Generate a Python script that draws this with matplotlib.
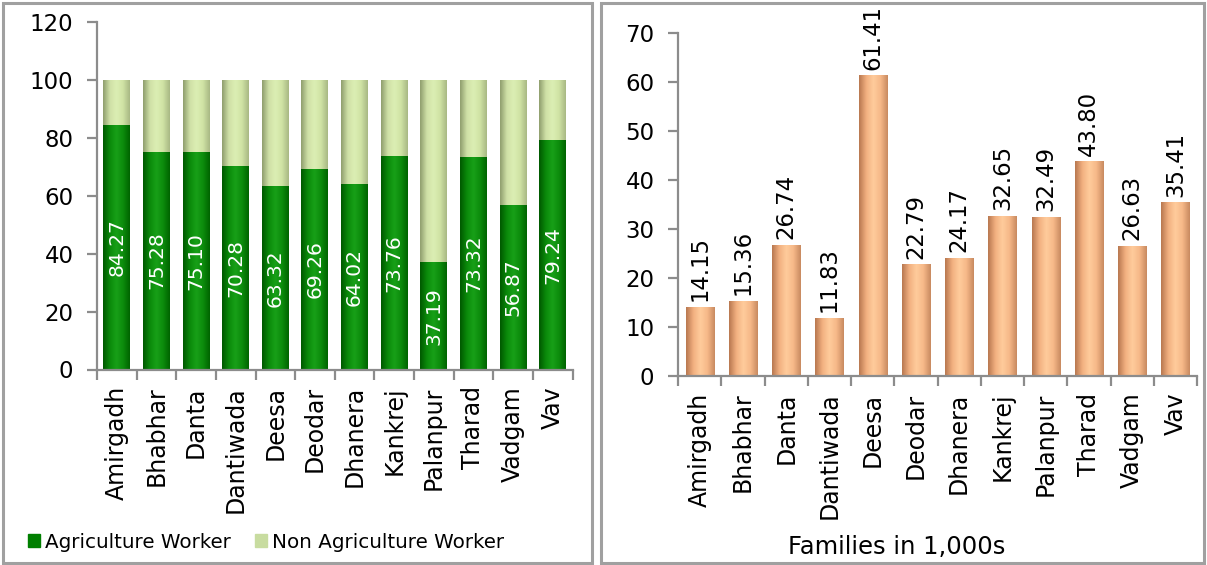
import numpy as np
import matplotlib
matplotlib.use('Agg')
import matplotlib.pyplot as plt
from matplotlib.colors import LinearSegmentedColormap
from matplotlib.patches import Rectangle, Patch

blocks = ['Amirgadh', 'Bhabhar', 'Danta', 'Dantiwada', 'Deesa', 'Deodar',
          'Dhanera', 'Kankrej', 'Palanpur', 'Tharad', 'Vadgam', 'Vav']
agri_pct = [84.27, 75.28, 75.10, 70.28, 63.32, 69.26,
            64.02, 73.76, 37.19, 73.32, 56.87, 79.24]
non_agri_pct = [100 - v for v in agri_pct]
families = [14.15, 15.36, 26.74, 11.83, 61.41, 22.79,
            24.17, 32.65, 32.49, 43.80, 26.63, 35.41]

W, H = 1207, 565
fig = plt.figure(figsize=(W / 100, H / 100), dpi=100)

axis_grey = '#8c8c8c'
green_cmap = LinearSegmentedColormap.from_list(
    'g', ['#005800', '#0a8a0a', '#18a018', '#0c8c0c', '#006400'])
light_cmap = LinearSegmentedColormap.from_list(
    'lg', ['#8f9e6e', '#cfe0a6', '#dcefb4', '#cfe2a4', '#a8b884'])
orange_cmap = LinearSegmentedColormap.from_list(
    'o', ['#b87850', '#f2b080', '#ffcc9c', '#f6b888', '#c88a60'])
grad = np.linspace(0, 1, 64).reshape(1, -1)


def shade(ax, bars, cmap):
    for b in bars:
        x0, y0 = b.get_x(), b.get_y()
        im = ax.imshow(grad, extent=[x0, x0 + b.get_width(), y0, y0 + b.get_height()],
                       aspect='auto', cmap=cmap, zorder=2, interpolation='bicubic')
        im.set_clip_path(b)
        b.set_facecolor('none')


def style_axis(ax, n):
    for s in ['top', 'right']:
        ax.spines[s].set_visible(False)
    for s in ['left', 'bottom']:
        ax.spines[s].set_color(axis_grey)
        ax.spines[s].set_linewidth(1.6)
    ax.set_xlim(-0.5, n - 0.5)
    ax.set_xticks(range(n))
    ax.set_xticks(np.arange(-0.5, n, 1), minor=True)
    ax.tick_params(axis='x', which='major', length=0, pad=12)
    ax.tick_params(axis='x', which='minor', length=7, width=1.6, color=axis_grey)
    ax.tick_params(axis='y', length=7, width=1.6, color=axis_grey, labelsize=16.5, pad=10)
    ax.set_xticklabels(blocks, rotation=90, fontsize=17)


x = np.arange(len(blocks))

# left panel: share of workers
ax1 = fig.add_axes([97 / W, 1 - 369.5 / H, (572.5 - 97) / W, (369.5 - 22) / H])
b1 = ax1.bar(x, agri_pct, width=0.68, color='#0a8a0a', zorder=2)
b2 = ax1.bar(x, non_agri_pct, width=0.68, bottom=agri_pct, color='#d4e6aa', zorder=2)
shade(ax1, b1, green_cmap)
shade(ax1, b2, light_cmap)
style_axis(ax1, len(blocks))
ax1.set_ylim(0, 120)
ax1.set_yticks(range(0, 121, 20))
for i, v in enumerate(agri_pct):
    ax1.text(i, v / 2, f'{v:.2f}', rotation=90, ha='center', va='center',
             color='white', fontsize=14.6, zorder=3)

fig.legend(handles=[Patch(color='#007f00'), Patch(color='#c8dca0')],
           labels=['Agriculture Worker', 'Non Agriculture Worker'],
           loc='center', bbox_to_anchor=(266 / W, 1 - 542 / H), ncol=2,
           frameon=False, fontsize=14.3, handlelength=0.6, handleheight=0.6,
           handletextpad=0.25, columnspacing=1.2)

# right panel: families
ax2 = fig.add_axes([678 / W, 1 - 376 / H, (1197 - 678) / W, (376 - 33) / H])
b3 = ax2.bar(x, families, width=0.65, color='#f6b888', zorder=2)
shade(ax2, b3, orange_cmap)
style_axis(ax2, len(blocks))
ax2.set_ylim(0, 70)
ax2.set_yticks(range(0, 71, 10))
for i, v in enumerate(families):
    ax2.annotate(f'{v:.2f}', (i, v), xytext=(0, 4), textcoords='offset points',
                 rotation=90, ha='center', va='bottom', fontsize=16.4,
                 annotation_clip=False)
fig.text(897 / W, 1 - 547 / H, 'Families in 1,000s', ha='center', va='center',
         fontsize=17.5)

# panel borders
for x0, x1 in [(3, 592), (601, 1204)]:
    fig.patches.append(Rectangle((x0 / W, 2 / H), (x1 - x0) / W, (563 - 3) / H,
                                 transform=fig.transFigure, fill=False,
                                 edgecolor='#a0a0a0', linewidth=2.2))

fig.savefig('out.png', dpi=100)
